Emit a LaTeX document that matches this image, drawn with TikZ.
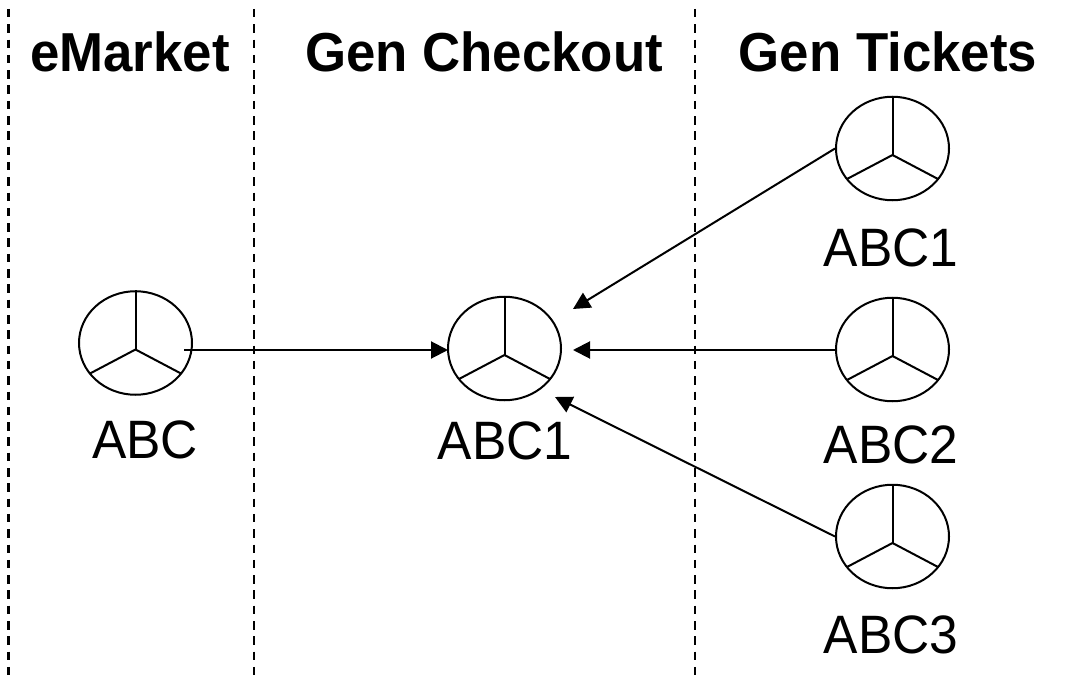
\documentclass[tikz,border=0pt]{standalone}
\usepackage{fontspec}
\usepackage{graphicx}
\setmainfont{Liberation Sans}
\usetikzlibrary{arrows.meta,shapes.geometric}
\tikzset{
  every picture/.style={x=1pt,y=-1pt},
  wheel/.style={draw,ellipse,minimum width=113pt,minimum height=103.5pt,inner sep=0pt,line width=2pt},
  spoke/.style={line width=2pt},
  sep/.style={line width=2.4pt,dash pattern=on 8.5pt off 6.8pt},
  conn/.style={line width=2pt,-{Triangle[length=17pt,width=17pt]}},
  title/.style={font=\bfseries\fontsize{52.8}{53}\selectfont,anchor=base,inner sep=0pt},
  lab/.style={font=\fontsize{51.5}{53}\selectfont,anchor=base,inner sep=0pt}
}
\newcommand{\tallt}[1]{\scalebox{1}[1.04]{#1}}
\newcommand{\talll}[1]{\scalebox{1}[1.05]{#1}}
\begin{document}
\begin{tikzpicture}
\useasboundingbox (0,0) rectangle (1076,679);
\coordinate (s1t) at (8.5,9); \coordinate (s1b) at (8.5,679);
\coordinate (s2t) at (254,9); \coordinate (s2b) at (254,679);
\coordinate (s3t) at (695,9); \coordinate (s3b) at (695,679);
\draw[sep] (s1t) -- (s1b);
\draw[sep] (s2t) -- (s2b);
\draw[sep] (s3t) -- (s3b);
\node[title] (hm) at (130,71.5) {\tallt{eMarket}};
\node[title] (hc) at (484,71.5) {\tallt{Gen Checkout}};
\node[title] (ht) at (888,71.5) {\tallt{Gen Tickets}};
\foreach \n/\x/\y/\t/\lx/\ly in {a/135.5/343/ABC/145/458, b/504.5/348.5/ABC1/505/459, c/892.5/148.5/ABC1/891/266, d/892.5/349.5/ABC2/891/463, e/892.5/536.5/ABC3/891/653}{
  \node[wheel] (\n) at (\x,\y) {};
  \coordinate (\n o) at (\x,\y+6.5);
  \draw[spoke] (\n o) -- (\n.north);
  \draw[spoke] (\n o) -- ++(45.5,24);
  \draw[spoke] (\n o) -- ++(-45.5,24);
  \node[lab] (\n l) at (\lx,\ly) {\talll{\t}};
}
\coordinate (as) at (184,350); \coordinate (at) at (448,350);
\coordinate (ds) at (836,350); \coordinate (dt) at (573,350);
\coordinate (ct) at (573,309);
\coordinate (et) at (555,397);
\draw[conn] (as) -- (at);
\draw[conn] (ds) -- (dt);
\draw[conn] (c.west) -- (ct);
\draw[conn] (e.west) -- (et);
\end{tikzpicture}
\end{document}
